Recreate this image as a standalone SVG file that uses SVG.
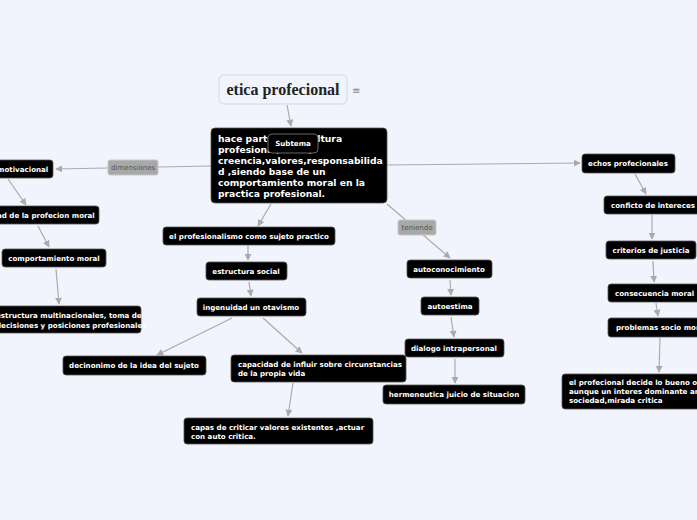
<svg xmlns="http://www.w3.org/2000/svg" width="697" height="520" viewBox="0 0 697 520">
<style>
.n{fill:#000;stroke:#555;stroke-width:0.8}
.t{fill:#fff;font-family:"DejaVu Sans",sans-serif;font-weight:bold;font-size:7.1px}
.m{fill:#fff;font-family:"DejaVu Sans",sans-serif;font-weight:bold;font-size:9.2px}
.lb{fill:#a8a8a8;stroke:#c8c8c8}
.lt{fill:#555;font-family:"DejaVu Sans",sans-serif;font-size:7px}
.c path{fill:none;stroke:#aaa;stroke-width:1.2;marker-end:url(#a)}
</style>
<defs><marker id="a" viewBox="0 0 10 10" refX="9" refY="5" markerWidth="7" markerHeight="7" orient="auto" markerUnits="userSpaceOnUse"><path d="M0,0L10,5L0,10z" fill="#aaa"/></marker></defs>
<rect width="697" height="520" fill="#f1f4fd"/>
<g class="c">
<path d="M287,105L291,126"/>
<path d="M211,166L56,169"/>
<path d="M8,179L26,205"/>
<path d="M38,226L49,247"/>
<path d="M56,269L59,304"/>
<path d="M271,204L258,226"/>
<path d="M248,246L248,260"/>
<path d="M249,282L251,296"/>
<path d="M232,318L157,355"/>
<path d="M263,318L302,353"/>
<path d="M293,383L288,416"/>
<path d="M387,165L580,163"/>
<path d="M387,204L450,258"/>
<path d="M635,174L646,194"/>
<path d="M652,215L652,239"/>
<path d="M653,261L654,282"/>
<path d="M656,303L658,316"/>
<path d="M660,338L659,372"/>
<path d="M450,280L451,295"/>
<path d="M451,317L454,337"/>
<path d="M455,359L455,383"/>
</g>
<g id="root"><rect x="219" y="75" width="128" height="29" rx="5" fill="#f1f4fd" stroke="#dde1ec" stroke-width="1.5"/><text x="283" y="95" text-anchor="middle" font-family="Liberation Serif,serif" font-weight="bold" font-size="16" fill="#222">etica profecional</text><text x="352" y="94" font-family="DejaVu Sans,sans-serif" font-size="10" fill="#888">≡</text></g>
<g id="main"><rect class="n" x="211" y="128" width="176" height="75" rx="4"/>
<text class="m" x="218" y="142">hace parte de la cultura</text><text class="m" x="218" y="153">profesional,mitos,</text><text class="m" x="218" y="164">creencia,valores,responsabilida</text><text class="m" x="218" y="175">d ,siendo base de un</text><text class="m" x="218" y="186">comportamiento moral en la</text><text class="m" x="218" y="197">practica profesional.</text></g>
<g id="subtema"><rect x="268" y="134" width="50" height="19" rx="4" fill="#000" stroke="#666"/><text class="t" x="293" y="146" text-anchor="middle">Subtema</text></g>
<g id="dimensiones"><rect class="lb" x="108" y="160" width="50" height="15" rx="2"/><text class="lt" x="133" y="170" text-anchor="middle">dimensiones</text></g>
<g id="teniendo"><rect class="lb" x="398" y="220" width="38" height="15" rx="2"/><text class="lt" x="417" y="230" text-anchor="middle">teniendo</text></g>
<g id="n1"><rect class="n" x="-6" y="160" width="59" height="18" rx="3"/><text class="t" x="-3" y="172">motivacional</text></g>
<g id="n2"><rect class="n" x="-6" y="206" width="105" height="18" rx="3"/><text class="t" x="-3" y="218">ad de la profecion moral</text></g>
<g id="n3"><rect class="n" x="2" y="249" width="104" height="18" rx="3"/><text class="t" x="54" y="261" text-anchor="middle">comportamiento moral</text></g>
<g id="n4"><rect class="n" x="-6" y="306" width="147" height="27" rx="3"/><text class="t" x="-4" y="318">estructura multinacionales, toma de</text><text class="t" x="-4" y="328">decisiones y posiciones profesionales</text></g>
<g id="n5"><rect class="n" x="163" y="227" width="172" height="18" rx="3"/><text class="t" x="249" y="239" text-anchor="middle">el profesionalismo como sujeto practico</text></g>
<g id="n6"><rect class="n" x="206" y="262" width="81" height="18" rx="3"/><text class="t" x="246" y="274" text-anchor="middle">estructura social</text></g>
<g id="n7"><rect class="n" x="197" y="298" width="109" height="18" rx="3"/><text class="t" x="251" y="310" text-anchor="middle">ingenuidad un otavismo</text></g>
<g id="n8"><rect class="n" x="63" y="356" width="143" height="19" rx="3"/><text class="t" x="134" y="368" text-anchor="middle">decinonimo de la idea del sujeto</text></g>
<g id="n9"><rect class="n" x="231" y="355" width="175" height="27" rx="3"/><text class="t" x="238" y="367">capacidad de influir sobre circunstancias</text><text class="t" x="238" y="376">de la propia vida</text></g>
<g id="n10"><rect class="n" x="184" y="418" width="189" height="26" rx="3"/><text class="t" x="191" y="430">capas de criticar valores existentes ,actuar</text><text class="t" x="191" y="439">con auto critica.</text></g>
<g id="n11"><rect class="n" x="407" y="260" width="85" height="18" rx="3"/><text class="t" x="449" y="272" text-anchor="middle">autoconocimiento</text></g>
<g id="n12"><rect class="n" x="421" y="297" width="58" height="18" rx="3"/><text class="t" x="450" y="309" text-anchor="middle">autoestima</text></g>
<g id="n13"><rect class="n" x="405" y="339" width="99" height="18" rx="3"/><text class="t" x="454" y="351" text-anchor="middle">dialogo intrapersonal</text></g>
<g id="n14"><rect class="n" x="383" y="385" width="142" height="19" rx="3"/><text class="t" x="454" y="397" text-anchor="middle">hermeneutica juicio de situacion</text></g>
<g id="n15"><rect class="n" x="582" y="154" width="93" height="19" rx="3"/><text class="t" x="628" y="166" text-anchor="middle">echos profecionales</text></g>
<g id="n16"><rect class="n" x="604" y="196" width="100" height="18" rx="3"/><text class="t" x="611" y="208">conficto de intereces</text></g>
<g id="n17"><rect class="n" x="606" y="241" width="90" height="18" rx="3"/><text class="t" x="651" y="253" text-anchor="middle">criterios de justicia</text></g>
<g id="n18"><rect class="n" x="608" y="284" width="95" height="18" rx="3"/><text class="t" x="615" y="296">consecuencia moral</text></g>
<g id="n19"><rect class="n" x="608" y="318" width="95" height="19" rx="3"/><text class="t" x="616" y="330">problemas socio morales</text></g>
<g id="n20"><rect class="n" x="562" y="374" width="145" height="35" rx="3"/><text class="t" x="569" y="385">el profecional decide lo bueno o malo</text><text class="t" x="569" y="394">aunque un interes dominante ante la</text><text class="t" x="569" y="403">sociedad,mirada critica</text></g>
</svg>
